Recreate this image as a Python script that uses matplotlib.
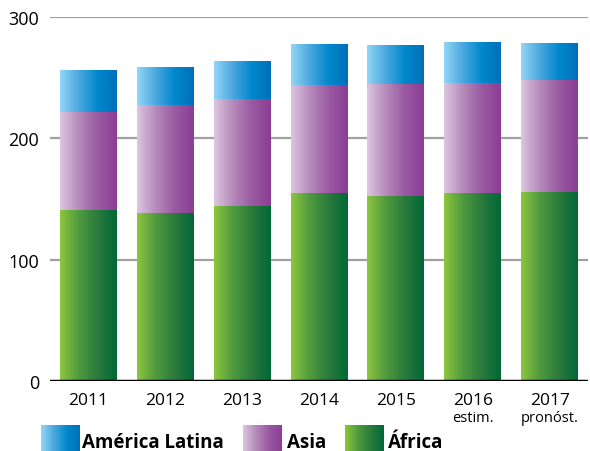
"""Stacked bars with horizontal gradients: Africa, Asia, America Latina."""
import numpy as np
import matplotlib
matplotlib.use("Agg")
import matplotlib.pyplot as plt
from matplotlib.colors import LinearSegmentedColormap

YEARS = ["2011", "2012", "2013", "2014", "2015", "2016", "2017"]
SUBLABELS = ["", "", "", "", "", "estim.", "pronóst."]
AFRICA = [141, 138.5, 144.5, 155, 152.5, 155, 156]
ASIA = [81, 89, 88, 89, 92, 91, 92]
LATAM = [34, 30.5, 30.5, 33, 32, 33, 30]
SERIES = ["América Latina", "Asia", "África"]

CMAPS = {
    "África": LinearSegmentedColormap.from_list("af", ["#8dc63f", "#4f9a3e", "#2a7a3c", "#006837"]),
    "Asia": LinearSegmentedColormap.from_list("as", ["#dcc6e0", "#b58ab9", "#9a5aa2", "#8b3d94"]),
    "América Latina": LinearSegmentedColormap.from_list("la", ["#93d6f6", "#4aa7de", "#0088cc", "#006fb9"]),
}
GRADIENT = np.linspace(0, 1, 256).reshape(1, -1)

plt.rcParams["font.family"] = ["Open Sans", "DejaVu Sans"]

fig = plt.figure(figsize=(5.9, 4.52), dpi=100)
ax = fig.add_axes([50 / 590, 1 - 382 / 452, 538 / 590, 364 / 452])
ax.set_xlim(-0.5, 6.5)
ax.set_ylim(0, 300)
ax.set_autoscale_on(False)

width = 0.74
bottoms = np.zeros(len(YEARS))
for name, values in [("África", AFRICA), ("Asia", ASIA), ("América Latina", LATAM)]:
    for i, v in enumerate(values):
        ax.imshow(GRADIENT, cmap=CMAPS[name], aspect="auto", interpolation="bicubic",
                  extent=(i - width / 2, i + width / 2, bottoms[i], bottoms[i] + v), zorder=2)
    bottoms += np.array(values)

for y in [100, 200, 300]:
    ax.axhline(y, color="#a0a0a0", lw=1.6, zorder=1)
ax.axhline(0, color="black", lw=2.5, zorder=3)

for s in ax.spines.values():
    s.set_visible(False)
ax.set_yticks([0, 100, 200, 300])
ax.set_yticklabels(["0", "100", "200", "300"], fontsize=13)
ax.tick_params(axis="y", length=0, pad=8)
ax.set_xticks(range(len(YEARS)))
ax.set_xticklabels(YEARS, fontsize=12.5)
ax.tick_params(axis="x", length=0, pad=8)
for i, sub in enumerate(SUBLABELS):
    if sub:
        ax.text(i, -30, sub, ha="center", va="center", fontsize=10.5)

# legend with gradient swatches
legend_items = [("América Latina", 41, 82), ("Asia", 243, 287), ("África", 345, 388)]
for name, x0, tx in legend_items:
    sw = fig.add_axes([x0 / 590, 0, 39 / 590, 26 / 452])
    sw.imshow(GRADIENT, cmap=CMAPS[name], aspect="auto", interpolation="bicubic")
    sw.axis("off")
    fig.text(tx / 590, -1 / 452, name, fontsize=13.5, fontweight="bold", va="bottom", ha="left")

fig.savefig("out.png", dpi=100)
